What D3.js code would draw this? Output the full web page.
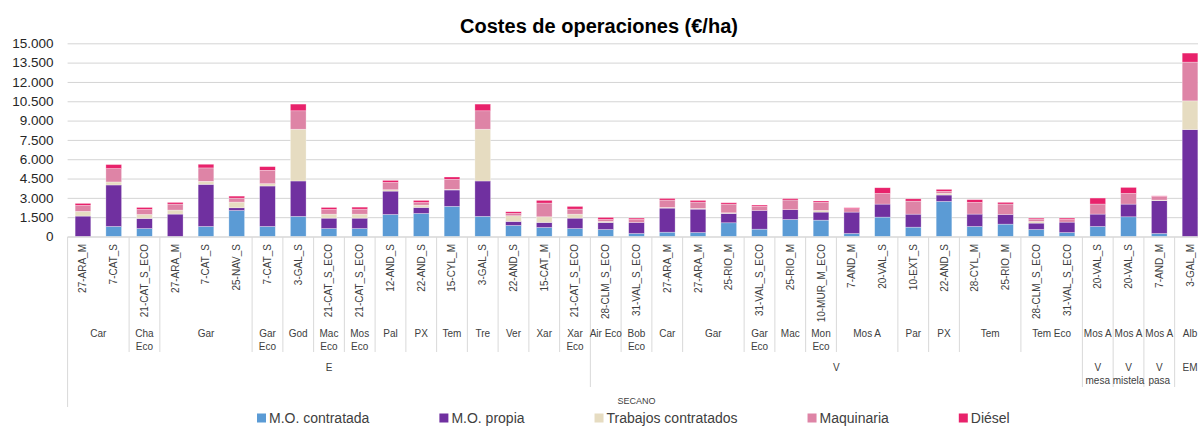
<html><head>
  <meta charset="utf-8">
  <script src="https://d3js.org/d3.v7.min.js"></script>
  <style>
  body { margin: 0; background: #fff; }
  svg { font-family: "Liberation Sans", Arial, sans-serif; }
  .gridlines line { stroke: #d4d4d4; }
  .gridlines .domain { stroke: none; }
  .y.axis .domain { stroke: none; }
  .y.axis text { fill: #262626; font-size: 13.5px; }
  .leaf text { fill: #404040; font-size: 10px; }
  .leaf .domain { stroke: none; }
  .sep { stroke: #d9d9d9; stroke-width: 1; }
  .grp { fill: #404040; font-size: 10px; text-anchor: middle; }
  .legend text { fill: #404040; font-size: 14px; }
  </style>
</head>
<body>
<svg id="chart" width="1198" height="426"></svg>
<script>
// leaf categories (bottom rotated labels)
const leafLabels = ["27-ARA_M","7-CAT_S","21-CAT_S_ECO","27-ARA_M","7-CAT_S","25-NAV_S","7-CAT_S","3-GAL_S",
  "21-CAT_S_ECO","21-CAT_S_ECO","12-AND_S","22-AND_S","15-CYL_M","3-GAL_S","22-AND_S","15-CAT_M","21-CAT_S_ECO",
  "28-CLM_S_ECO","31-VAL_S_ECO","27-ARA_M","27-ARA_M","25-RIO_M","31-VAL_S_ECO","25-RIO_M","10-MUR_M_ECO",
  "7-AND_M","20-VAL_S","10-EXT_S","22-AND_S","28-CYL_M","25-RIO_M","28-CLM_S_ECO","31-VAL_S_ECO",
  "20-VAL_S","20-VAL_S","7-AND_M","3-GAL_M"];
// second level (variety)
const varietyLabels = ["Car","Car","Cha\nEco","Gar","Gar","Gar","Gar\nEco","God","Mac\nEco","Mos\nEco","Pal","PX","Tem","Tre","Ver","Xar","Xar\nEco",
  "Air Eco","Bob\nEco","Car","Gar","Gar","Gar\nEco","Mac","Mon\nEco","Mos A","Mos A","Par","PX","Tem","Tem","Tem Eco","Tem Eco",
  "Mos A","Mos A","Mos A","Alb"];
// third level (product)
const productLabels = ["E","E","E","E","E","E","E","E","E","E","E","E","E","E","E","E","E",
  "V","V","V","V","V","V","V","V","V","V","V","V","V","V","V","V",
  "V\nmesa","V\nmistela","V\npasa","EM"];
const topLabel = "SECANO";

// cost series (€/ha)
const moContratada = [0,780,620,0,780,2020,780,1560,620,620,1710,1790,2340,1560,860,700,620,
  545,235,335,310,1065,570,1325,1270,235,1505,725,2725,780,960,545,310,780,1530,235,0];
const moPropia = [1585,3220,780,1740,3270,210,3140,2750,805,805,1815,465,1270,2750,310,390,805,
  545,855,1870,1815,725,1455,755,625,1660,1010,1010,495,960,755,495,805,960,985,2545,8300];
const trabajos = [365,235,310,310,235,440,180,4020,310,310,105,180,50,4020,440,440,310,
  80,0,50,50,50,0,0,130,0,0,0,130,0,0,130,0,0,0,50,2230];
const maquinaria = [465,1040,390,465,1040,310,1040,1430,365,390,570,210,780,1430,180,1065,390,
  155,235,570,495,675,310,755,625,260,830,1010,155,910,805,180,210,780,830,285,3010];
const diesel = [155,310,155,130,285,155,285,520,155,155,155,155,180,520,130,210,210,
  155,105,130,130,105,105,105,105,80,440,180,155,210,130,80,105,465,465,40,700];

const seriesNames = ["M.O. contratada","M.O. propia","Trabajos contratados","Maquinaria","Diésel"];
const seriesColors = ["#5b9bd5","#7030a0","#e6dcc1","#de84a6","#e8226b"];
const yTicks = d3.range(0, 15001, 1500);

const svg = d3.select("#chart");
const plotLeft = 67.6, plotRight = 1205.4, plotTop = 43.3, plotBottom = 236.5;

const rows = leafLabels.map((d,i) => ({
  idx: i,
  "M.O. contratada": moContratada[i],
  "M.O. propia": moPropia[i],
  "Trabajos contratados": trabajos[i],
  "Maquinaria": maquinaria[i],
  "Diésel": diesel[i]
}));

const x = d3.scaleBand().domain(d3.range(leafLabels.length)).range([plotLeft, plotRight]);
const y = d3.scaleLinear().domain([0, 15000]).range([plotBottom, plotTop]);
const color = d3.scaleOrdinal().domain(seriesNames).range(seriesColors);
const es = d3.formatLocale({decimal: ",", thousands: ".", grouping: [3], currency: ["", "€"]});

// gridlines
svg.append("g")
   .attr("class","gridlines")
   .attr("transform","translate("+ plotLeft +",0)")
   .call(d3.axisLeft(y).tickValues(yTicks).tickFormat("").tickSize(-(plotRight-plotLeft)));

svg.append("g")
   .attr("class","y axis")
   .attr("transform","translate("+ plotLeft +",0)")
   .call(d3.axisLeft(y).tickValues(yTicks).tickFormat(es.format(",d")).tickSize(0).tickPadding(14));

// stacked bars
const stack = d3.stack().keys(seriesNames)(rows);
const bw = x.bandwidth();
svg.append("g").selectAll("g")
   .data(stack).join("g")
   .attr("fill", s => color(s.key))
   .selectAll("rect")
   .data(s => s).join("rect")
   .attr("x", d => x(d.data.idx) + bw*0.245)
   .attr("width", bw*0.51)
   .attr("y", d => y(d[1]))
   .attr("height", d => y(d[0]) - y(d[1]))
   .attr("stroke","#fff").attr("stroke-width",0.6).attr("stroke-opacity",0.5);

// category axis
svg.append("line").attr("class","sep")
   .attr("x1", plotLeft).attr("x2", plotRight).attr("y1", 237).attr("y2", 237);

let leaf = svg.append("g")
   .attr("class","leaf")
   .attr("transform","translate(0,237)")
   .call(d3.axisBottom(x).tickFormat(i => leafLabels[i]).tickSize(0));
leaf.selectAll("text")
   .attr("transform","rotate(-90)")
   .attr("x", -7).attr("y", 0).attr("dy","0.35em")
   .style("text-anchor","end");

// runs of equal labels
function runs(keyFn) {
  let out = [];
  leafLabels.forEach((d,i) => {
    let k = keyFn(i);
    if (out.length && out[out.length-1].key == k) out[out.length-1].end = i;
    else out.push({key:k, start:i, end:i});
  });
  return out;
}
const step = x.step();
const x0 = i => x(i);
const x1 = i => x(i) + step;

function drawLabels(rs, textFn, baseY) {
  rs.forEach(r => {
    let lines = textFn(r.start).split("\n");
    let t = svg.append("text").attr("class","grp")
       .attr("x", (x0(r.start) + x1(r.end))/2).attr("y", baseY);
    lines.forEach((l,j) => {
      t.append("tspan").attr("x", (x0(r.start) + x1(r.end))/2).attr("dy", j ? 13 : 0).text(l);
    });
  });
}

const varRuns = runs(i => productLabels[i] + "|" + varietyLabels[i]);
const prodRuns = runs(i => productLabels[i]);

varRuns.forEach(r => {
  if (r.start > 0) svg.append("line").attr("class","sep")
     .attr("x1", x0(r.start)).attr("x2", x0(r.start)).attr("y1", 237).attr("y2", 352);
});
prodRuns.forEach(r => {
  if (r.start > 0) svg.append("line").attr("class","sep")
     .attr("x1", x0(r.start)).attr("x2", x0(r.start)).attr("y1", 352).attr("y2", 387);
});
svg.append("line").attr("class","sep")
   .attr("x1", plotLeft).attr("x2", plotLeft).attr("y1", 237).attr("y2", 407);

drawLabels(varRuns, i => varietyLabels[i], 336.5);
drawLabels(prodRuns, i => productLabels[i], 370.5);

svg.append("text").attr("class","grp")
   .attr("x", (plotLeft+plotRight)/2).attr("y", 403.5)
   .style("font-size","9px")
   .text(topLabel);

// title
svg.append("text")
   .attr("x", 599).attr("y", 33)
   .attr("text-anchor","middle")
   .style("font-size","20px").style("font-weight","bold").style("fill","#000")
   .text("Costes de operaciones (€/ha)");

// legend
let legend = svg.append("g").attr("class","legend");
let lx = 257;
seriesNames.forEach((d,i) => {
  legend.append("rect").attr("x", lx).attr("y", 413.5).attr("width", 9).attr("height", 9).attr("fill", color(d));
  let t = legend.append("text").attr("x", lx + 12).attr("y", 422.5).text(d);
  lx += 12 + t.node().getComputedTextLength() + 70;
});
</script>
</body>
</html>
